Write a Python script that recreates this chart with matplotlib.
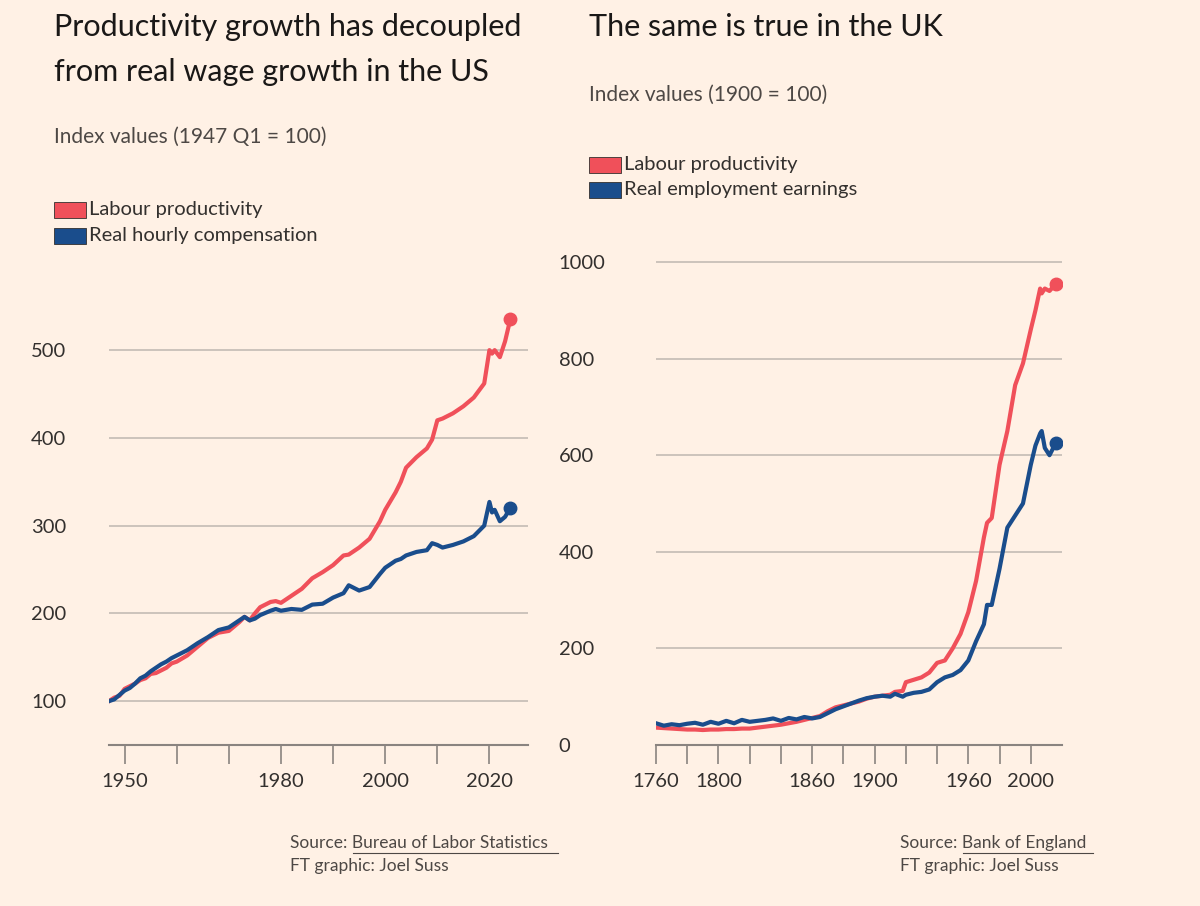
import matplotlib.pyplot as plt
import matplotlib.patches as mpatches

plt.rcParams['font.family'] = ['Lato', 'DejaVu Sans']

BG = '#fff1e5'
RED = '#f0505a'
BLUE = '#1a4d8c'
GRID = '#c4bcb4'
TXT = '#33302e'

# US data
us_years = [1947, 1948, 1949, 1950, 1951, 1952, 1953, 1954, 1955, 1956, 1957, 1958, 1959, 1960,
            1962, 1964, 1966, 1968, 1970, 1972, 1973, 1974, 1975, 1976, 1978, 1979, 1980, 1982,
            1984, 1986, 1988, 1990, 1992, 1993, 1995, 1997, 1999, 2000, 2002, 2003, 2004, 2005,
            2006, 2008, 2009, 2010, 2011, 2013, 2015, 2017, 2019, 2020, 2020.5, 2021, 2022, 2023, 2024]
us_prod = [100, 104, 106, 114, 117, 120, 124, 126, 131, 132, 135, 138, 143, 145,
           152, 162, 172, 178, 180, 190, 196, 192, 200, 207, 213, 214, 212, 220,
           228, 240, 247, 255, 266, 267, 275, 285, 305, 318, 338, 350, 366, 372,
           378, 388, 398, 420, 422, 428, 436, 446, 462, 500, 496, 500, 492, 510, 535]
us_comp = [100, 102, 107, 112, 115, 120, 126, 129, 134, 138, 142, 145, 149, 152,
           158, 166, 173, 181, 184, 192, 196, 192, 194, 198, 203, 205, 203, 205,
           204, 210, 211, 218, 223, 232, 226, 230, 245, 252, 260, 262, 266, 268,
           270, 272, 280, 278, 275, 278, 282, 288, 300, 327, 315, 318, 305, 310, 320]

# UK data
uk_years = [1760, 1765, 1770, 1775, 1780, 1785, 1790, 1795, 1800, 1805, 1810, 1815, 1820, 1825,
            1830, 1835, 1840, 1845, 1850, 1855, 1860, 1865, 1870, 1875, 1880, 1885, 1890, 1895,
            1900, 1905, 1910, 1913, 1918, 1920, 1925, 1930, 1935, 1940, 1945, 1950, 1955, 1960,
            1965, 1970, 1972, 1975, 1980, 1985, 1990, 1995, 2000, 2003, 2006, 2007, 2009, 2012, 2016]
uk_prod = [36, 35, 34, 33, 32, 32, 31, 32, 32, 33, 33, 34, 34, 36,
           38, 40, 42, 45, 48, 52, 56, 60, 70, 78, 82, 86, 90, 96,
           100, 102, 104, 110, 112, 130, 135, 140, 150, 170, 175, 200, 230, 275,
           340, 430, 460, 470, 580, 650, 745, 790, 860, 900, 945, 935, 945, 940, 955]
uk_earn = [45, 40, 43, 41, 44, 46, 42, 48, 44, 50, 45, 52, 48, 50,
           52, 55, 50, 56, 53, 58, 55, 58, 66, 74, 80, 86, 92, 97,
           100, 102, 100, 106, 100, 104, 108, 110, 115, 130, 140, 145, 155, 175,
           215, 250, 290, 290, 365, 450, 475, 500, 580, 620, 645, 650, 615, 600, 625]

fig = plt.figure(figsize=(12, 9.06), dpi=100, facecolor=BG)

def style(ax):
    ax.set_facecolor(BG)
    for s in ['top', 'right', 'left']:
        ax.spines[s].set_visible(False)
    ax.spines['bottom'].set_color('#8a8480')
    ax.spines['bottom'].set_linewidth(1.5)
    ax.grid(axis='y', color=GRID, linewidth=1.2)
    ax.set_axisbelow(True)
    ax.tick_params(axis='y', length=0, labelsize=14.5, labelcolor=TXT, pad=12)
    ax.tick_params(axis='x', length=14, width=1.2, color='#8a8480', labelsize=14.5, labelcolor=TXT, pad=6)

H = 906
W = 1200
axL = fig.add_axes([109 / W, 1 - 745 / H, (528 - 109) / W, (745 - 290) / H])
style(axL)
axL.plot(us_years, us_prod, color=RED, lw=3, solid_joinstyle='round')
axL.plot(us_years, us_comp, color=BLUE, lw=3, solid_joinstyle='round')
axL.plot(us_years[-1], us_prod[-1], 'o', color=RED, ms=9)
axL.plot(us_years[-1], us_comp[-1], 'o', color=BLUE, ms=9)
axL.set_xlim(1947, 2027.4)
axL.set_ylim(50, 50 + 455 / 0.8775)
axL.set_yticks([100, 200, 300, 400, 500])
axL.set_xticks(range(1950, 2030, 10))
axL.set_xticklabels(['1950', '', '', '1980', '', '2000', '', '2020'])
for lab in axL.get_yticklabels():
    lab.set_horizontalalignment('left')
axL.tick_params(axis='y', pad=56)

axR = fig.add_axes([656 / W, 1 - 745 / H, (1062 - 656) / W, (745 - 250) / H])
style(axR)
axR.plot(uk_years, uk_prod, color=RED, lw=3, solid_joinstyle='round')
axR.plot(uk_years, uk_earn, color=BLUE, lw=3, solid_joinstyle='round')
axR.plot(uk_years[-1], uk_prod[-1], 'o', color=RED, ms=9)
axR.plot(uk_years[-1], uk_earn[-1], 'o', color=BLUE, ms=9)
axR.set_xlim(1760, 2020)
axR.set_ylim(0, 495 / 0.483)
axR.set_yticks([0, 200, 400, 600, 800, 1000])
axR.set_xticks(range(1760, 2020, 20))
axR.set_xticklabels(['1760', '', '1800', '', '', '1860', '', '1900', '', '', '1960', '', '2000'])
for lab in axR.get_yticklabels():
    lab.set_horizontalalignment('left')
axR.tick_params(axis='y', pad=70)

def t(x, y, s, size, color=TXT, **kw):
    return fig.text(x / W, 1 - y / H, s, fontsize=size, color=color, va='center', **kw)

t(54, 27, 'Productivity growth has decoupled', 22, color='#1a1817')
t(54, 72, 'from real wage growth in the US', 22, color='#1a1817')
t(54, 137, 'Index values (1947 Q1 = 100)', 15, color='#4d4845')
t(589, 27, 'The same is true in the UK', 22, color='#1a1817')
t(589, 95, 'Index values (1900 = 100)', 15, color='#4d4845')

def legend_item(x, y, color, label):
    fig.patches.append(mpatches.Rectangle((x / W, 1 - (y + 8) / H), 32 / W, 16 / H,
                                          transform=fig.transFigure, facecolor=color,
                                          edgecolor='#33302e', linewidth=0.6))
    t(x + 35, y, label, 14.5, color=TXT)

legend_item(54, 210, RED, 'Labour productivity')
legend_item(54, 236, BLUE, 'Real hourly compensation')
legend_item(589, 165, RED, 'Labour productivity')
legend_item(589, 190, BLUE, 'Real employment earnings')

SC = '#4d4845'
t(290, 843, 'Source: Bureau of Labor Statistics', 12.5, color=SC)
fig.add_artist(plt.Line2D([353 / W, 558 / W], [1 - 853 / H, 1 - 853 / H], color=SC, lw=0.8))
t(290, 866, 'FT graphic: Joel Suss', 12.5, color=SC)
t(900, 843, 'Source: Bank of England', 12.5, color=SC)
fig.add_artist(plt.Line2D([963 / W, 1093 / W], [1 - 853 / H, 1 - 853 / H], color=SC, lw=0.8))
t(900, 866, 'FT graphic: Joel Suss', 12.5, color=SC)

fig.savefig('out.png', dpi=100, facecolor=BG)
